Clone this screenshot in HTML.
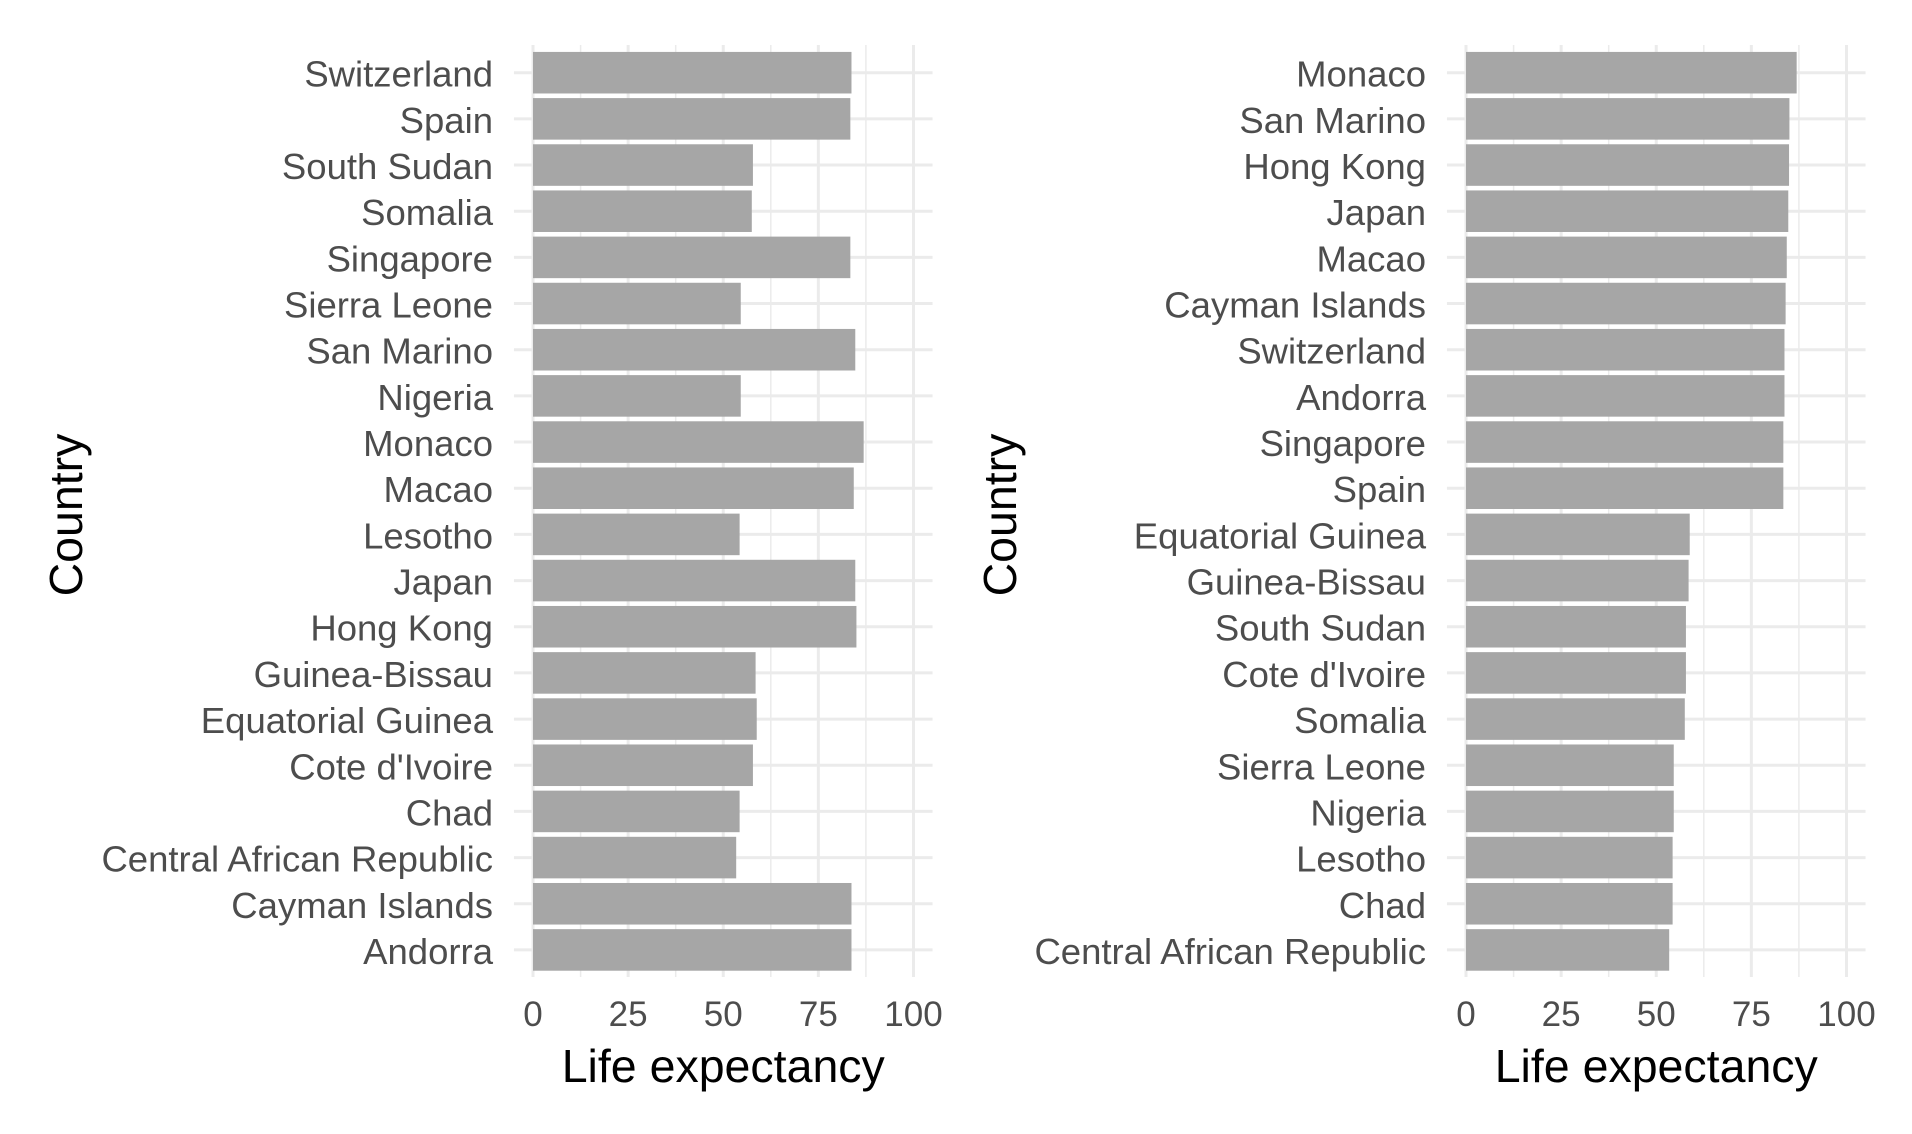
<!DOCTYPE html>
<html><head><meta charset="utf-8"><style>
html,body{margin:0;padding:0;background:#fff;width:1912px;height:1134px;overflow:hidden}
text{font-family:"Liberation Sans",Arial,sans-serif}
</style></head><body>
<svg id="chart" width="1912" height="1134" viewBox="0 0 1912 1134" xmlns="http://www.w3.org/2000/svg"></svg>
<script>
const countriesLeft = ["Switzerland","Spain","South Sudan","Somalia","Singapore","Sierra Leone","San Marino","Nigeria","Monaco","Macao","Lesotho","Japan","Hong Kong","Guinea-Bissau","Equatorial Guinea","Cote d'Ivoire","Chad","Central African Republic","Cayman Islands","Andorra"];
const valuesLeft = [83.7,83.4,57.8,57.5,83.4,54.6,84.7,54.6,86.9,84.3,54.3,84.7,85.0,58.5,58.8,57.8,54.3,53.4,83.7,83.7];
const countriesRight = ["Monaco","San Marino","Hong Kong","Japan","Macao","Cayman Islands","Switzerland","Andorra","Singapore","Spain","Equatorial Guinea","Guinea-Bissau","South Sudan","Cote d'Ivoire","Somalia","Sierra Leone","Nigeria","Lesotho","Chad","Central African Republic"];
const valuesRight = [86.9,85.0,84.9,84.7,84.3,84.0,83.7,83.7,83.4,83.4,58.8,58.5,57.8,57.8,57.5,54.6,54.6,54.3,54.3,53.4];
const xTicks = [0,25,50,75,100];
const xTickLabels = ["0","25","50","75","100"];

const svg = document.getElementById('chart');
const NS = 'http://www.w3.org/2000/svg';
function mk(tag, attrs, parent){const e=document.createElementNS(NS,tag);for(const k in attrs)e.setAttribute(k,attrs[k]);(parent||svg).appendChild(e);return e;}

function panel(cats, vals, x0, name, titleX){
  const g = mk('g',{});
  
  
  const pxPerUnit = 3.805;
  const xs = v => x0 + v*pxPerUnit;
  const top = 45, bottom = 977;
  const step = 46.17, c0 = 72.7;
  const ys = i => c0 + i*step;
  const gl = xs(-5), gr = xs(105);
  for (let i=0;i<xTicks.length-1;i++){
    const m=(xTicks[i]+xTicks[i+1])/2;
    const l=mk('line',{x1:xs(m),x2:xs(m),y1:top,y2:bottom,stroke:'#ebebeb','stroke-width':1.5},g);
    
    
  }
  xTicks.forEach(t=>{
    const l=mk('line',{x1:xs(t),x2:xs(t),y1:top,y2:bottom,stroke:'#ebebeb','stroke-width':3},g);
    
    
  });
  cats.forEach((c,i)=>{
    const l=mk('line',{x1:gl,x2:gr,y1:ys(i),y2:ys(i),stroke:'#ebebeb','stroke-width':3},g);
    
    
  });
  cats.forEach((c,i)=>{
    const h=step*0.9;
    const r=mk('rect',{x:xs(0),y:ys(i)-h/2,width:xs(vals[i])-xs(0),height:h,fill:'#a6a6a6'},g);
    
    
    const t=mk('text',{x:xs(0)-40,y:ys(i)+14,'text-anchor':'end','font-size':36.5,fill:'#4d4d4d'},g);
    t.textContent=c;
    
    
  });
  xTicks.forEach((t,i)=>{
    const tx=mk('text',{x:xs(t),y:1026,'text-anchor':'middle','font-size':35,fill:'#4d4d4d'},g);
    tx.textContent=xTickLabels[i];
    
    
  });
  const xt=mk('text',{x:xs(50),y:1082,'text-anchor':'middle','font-size':46.5,fill:'#000'},g);
  xt.textContent='Life expectancy';
  
  
  const yt=mk('text',{x:0,y:0,'text-anchor':'middle','font-size':46.5,fill:'#000',transform:`translate(${titleX},515) rotate(-90)`},g);
  yt.textContent='Country';
  
  
}
panel(countriesLeft, valuesLeft, 533, 'left-panel-alphabetical', 82);
panel(countriesRight, valuesRight, 1466, 'right-panel-sorted', 1016);
</script>
</body></html>
